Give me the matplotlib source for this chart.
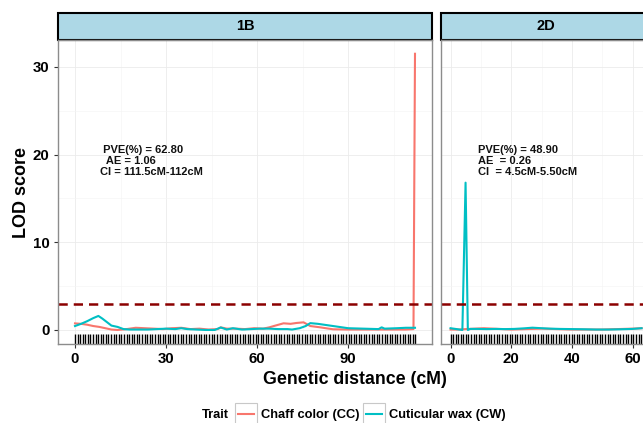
import matplotlib
matplotlib.use("Agg")
import matplotlib.pyplot as plt
from matplotlib.patches import Rectangle
from matplotlib.lines import Line2D

plt.rcParams['font.family'] = ['Liberation Sans', 'DejaVu Sans']
plt.rcParams['font.weight'] = 'bold'

# ---- data ----
# chromosome 1B
pos_1B_cc = [0, 2, 4, 6, 8, 10, 12, 14, 17, 20, 23, 26, 29, 32, 35, 38, 41, 44, 47, 48, 50, 53,
             56, 59, 62, 64, 66, 68.7, 71, 73, 75.3, 77.5, 80.8, 83, 85, 90, 95, 100, 105, 109, 111.5, 112]
lod_1B_cc = [0.75, 0.7, 0.6, 0.45, 0.35, 0.2, 0.05, 0.0, 0.1, 0.25, 0.2, 0.15, 0.1, 0.2, 0.25, 0.1,
             0.15, 0.05, 0.1, 0.3, 0.15, 0.15, 0.1, 0.2, 0.15, 0.3, 0.5, 0.76, 0.7, 0.8, 0.87, 0.45,
             0.3, 0.18, 0.08, 0.05, 0.05, 0.05, 0.05, 0.05, 0.1, 31.5]
pos_1B_cw = [0, 2, 4, 6, 7.7, 9, 10.5, 12, 14, 16, 18, 21, 24, 27, 30, 33, 35, 37, 40, 43, 46, 48,
             50, 52, 55, 58, 61, 64, 67, 70, 71.5, 74, 76, 77.5, 80, 83, 86, 90, 95, 100, 101, 102,
             106, 109, 112]
lod_1B_cw = [0.45, 0.7, 1.0, 1.35, 1.6, 1.3, 0.9, 0.5, 0.35, 0.1, 0.05, 0.05, 0.05, 0.1, 0.15, 0.1,
             0.2, 0.1, 0.05, 0.0, 0.0, 0.28, 0.05, 0.2, 0.05, 0.1, 0.15, 0.15, 0.1, 0.1, 0.05, 0.2,
             0.45, 0.78, 0.7, 0.55, 0.4, 0.2, 0.15, 0.1, 0.3, 0.15, 0.2, 0.25, 0.25]
# chromosome 2D
pos_2D_cc = [0, 3, 5, 8, 11, 14, 17, 20, 25, 30, 35, 40, 45, 50, 55, 60, 63]
lod_2D_cc = [0.05, 0.05, 0.1, 0.15, 0.2, 0.15, 0.1, 0.05, 0.1, 0.15, 0.1, 0.05, 0.05, 0.05, 0.1,
             0.15, 0.2]
pos_2D_cw = [0, 2, 3.9, 4.95, 5.7, 6.5, 9, 12, 15, 18, 21, 24, 27, 30, 33, 36, 40, 44, 48, 52, 56,
             60, 63]
lod_2D_cw = [0.2, 0.1, 0.0, 16.8, 0.0, 0.12, 0.12, 0.1, 0.12, 0.1, 0.12, 0.18, 0.26, 0.2, 0.15,
             0.12, 0.1, 0.08, 0.05, 0.05, 0.08, 0.12, 0.2]

markers_1B = [0.0, 0.9, 1.7, 2.6, 3.4, 4.2, 5.1, 5.9, 6.8, 7.6, 8.5, 9.3, 10.2, 11.0, 11.9, 12.7,
              13.6, 14.4, 15.3, 16.1, 17.0, 17.8, 18.7, 19.5, 20.4, 21.2, 22.1, 22.9, 23.8, 24.6,
              25.5, 26.3, 27.2, 28.0, 28.9, 29.7, 30.6, 31.4, 32.3, 33.1, 34.0, 34.8, 35.7, 36.5,
              37.4, 38.2, 39.1, 39.9, 40.8, 41.6, 42.5, 43.3, 44.2, 45.0, 45.9, 46.7, 47.6, 48.4,
              49.3, 50.1, 51.0, 51.8, 52.7, 53.5, 54.4, 55.2, 56.1, 56.9, 57.8, 58.6, 59.5, 60.3,
              61.2, 62.0, 62.9, 63.7, 64.6, 65.4, 66.3, 67.1, 68.0, 68.8, 69.7, 70.5, 71.4, 72.2,
              73.1, 73.9, 74.8, 75.6, 76.5, 77.3, 78.2, 79.0, 79.9, 80.7, 81.6, 82.4, 83.3, 84.1,
              85.0, 85.8, 86.7, 87.5, 88.4, 89.2, 90.1, 90.9, 91.8, 92.6, 93.5, 94.3, 95.2, 96.0,
              96.9, 97.7, 98.6, 99.4, 100.3, 101.1, 102.0, 102.8, 103.7, 104.5, 105.4, 106.2,
              107.1, 107.9, 108.8, 109.6, 110.5, 111.3, 112.0]
markers_2D = [0.0, 0.8, 1.7, 2.5, 3.4, 4.2, 5.0, 5.9, 6.7, 7.6, 8.4, 9.3, 10.1, 11.0, 11.8, 12.7,
              13.5, 14.4, 15.2, 16.1, 16.9, 17.8, 18.6, 19.5, 20.3, 21.2, 22.0, 22.9, 23.7, 24.6,
              25.4, 26.3, 27.1, 28.0, 28.8, 29.7, 30.5, 31.4, 32.2, 33.1, 33.9, 34.8, 35.6, 36.5,
              37.3, 38.2, 39.0, 39.9, 40.7, 41.6, 42.4, 43.3, 44.1, 45.0, 45.8, 46.7, 47.5, 48.4,
              49.2, 50.1, 50.9, 51.8, 52.6, 53.5, 54.3, 55.2, 56.0, 56.9, 57.7, 58.6, 59.4, 60.3,
              61.1, 62.0, 62.8]

threshold = 3.0
labels_1B = " PVE(%) = 62.80\n  AE = 1.06\nCI = 111.5cM-112cM"
labels_2D = "PVE(%) = 48.90\nAE  = 0.26\nCI  = 4.5cM-5.50cM"
trait_names = ["Chaff color (CC)", "Cuticular wax (CW)"]
trait_colors = ["#F8766D", "#00BFC4"]

# ---- figure ----
W, H = 643, 423
fig = plt.figure(figsize=(W / 100, H / 100), dpi=100)


def px_axes(left, right, top, bottom):
    return fig.add_axes([left / W, 1 - bottom / H, (right - left) / W, (bottom - top) / H])


ax1 = px_axes(58, 432, 40, 344)
ax2 = px_axes(441, 651, 40, 344)

panels = [
    (ax1, "1B", pos_1B_cc, lod_1B_cc, pos_1B_cw, lod_1B_cw, markers_1B, (-5.6, 117.6),
     [0, 30, 60, 90], [15, 45, 75, 105], labels_1B, 8.2),
    (ax2, "2D", pos_2D_cc, lod_2D_cc, pos_2D_cw, lod_2D_cw, markers_2D, (-3.15, 66.1),
     [0, 20, 40, 60], [10, 30, 50], labels_2D, 9.1),
]

for ax, name, pcc, lcc, pcw, lcw, marks, xlim, xt, xmt, lab, labx in panels:
    ax.set_xlim(*xlim)
    ax.set_ylim(-1.6, 33.07)
    ax.set_xticks(xt)
    ax.set_xticks(xmt, minor=True)
    ax.set_yticks([0, 10, 20, 30])
    ax.set_yticks([5, 15, 25], minor=True)
    ax.grid(which='major', color='#EBEBEB', lw=0.6)
    ax.grid(which='minor', color='#F4F4F4', lw=0.4)
    ax.set_axisbelow(True)
    for s in ax.spines.values():
        s.set_color('#8C8C8C')
        s.set_linewidth(1.0)
    ax.tick_params(which='major', length=3, width=0.8, color='#333333', labelsize=10.8,
                   labelcolor='black', pad=3)
    ax.tick_params(which='minor', length=0)

    ax.plot(pcc, lcc, color=trait_colors[0], lw=1.5)
    ax.plot(pcw, lcw, color=trait_colors[1], lw=1.5)
    ax.axhline(threshold, color='#8B0000', lw=1.8, dashes=(3.7, 2.4))
    ax.vlines(marks, 0, 0.033, transform=ax.get_xaxis_transform(), color='black', lw=1.0)

    ax.text(labx, 19.3, lab, fontsize=8, ha='left', va='center', linespacing=1.1,
            color='#111111')

    # facet strip
    ax.add_patch(Rectangle((0, 1), 1, 27 / 304, transform=ax.transAxes, clip_on=False,
                           facecolor='#ADD8E6', edgecolor='black', lw=1.5))
    ax.text(0.5, 1 + 13.5 / 304, name, transform=ax.transAxes, ha='center', va='center',
            fontsize=10.5)

ax2.tick_params(axis='y', left=False, labelleft=False)

fig.text(354.5 / W, 1 - 383.5 / H, "Genetic distance (cM)", ha='center', va='baseline',
         fontsize=12.8)
fig.text(22 / W, 1 - 192 / H, "LOD score", ha='center', va='center', rotation=90,
         fontsize=13)

# legend (bottom)
base = 1 - 418 / H
fig.text(201.7 / W, base, "Trait", ha='left', va='baseline', fontsize=9.3)
for x0, name, col in [(235, trait_names[0], trait_colors[0]), (363, trait_names[1], trait_colors[1])]:
    fig.patches.append(Rectangle((x0 / W, 1 - 425.7 / H), 22 / W, 23 / H, transform=fig.transFigure,
                                 facecolor='white', edgecolor='#C8C8C8', lw=0.8))
    fig.lines.append(Line2D([(x0 + 3) / W, (x0 + 19) / W], [1 - 414 / H] * 2,
                            transform=fig.transFigure, color=col, lw=1.5))
    fig.text((x0 + 25.7) / W, base, name, ha='left', va='baseline', fontsize=9.3)

fig.savefig("out.png", dpi=100)
